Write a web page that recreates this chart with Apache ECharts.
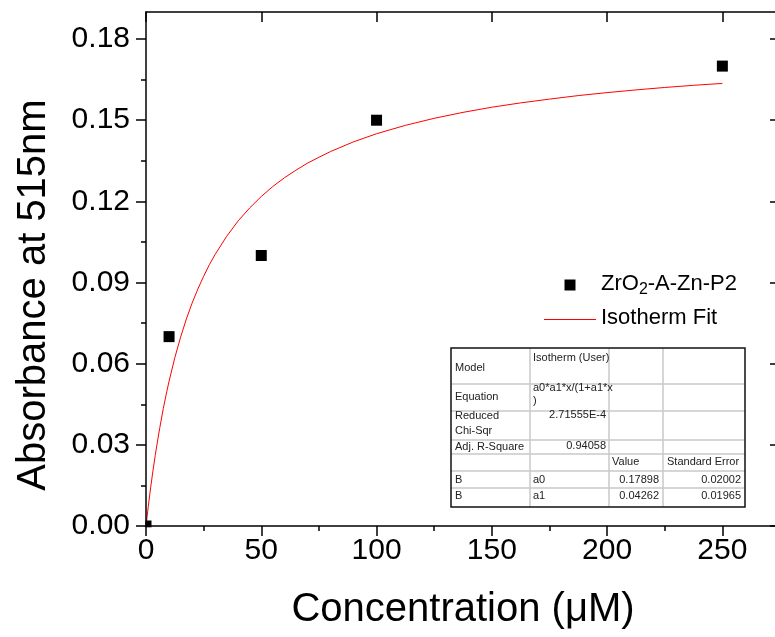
<!DOCTYPE html>
<html><head><meta charset="utf-8">
<script src="https://cdn.jsdelivr.net/npm/echarts@6.0.0/dist/echarts.min.js"></script>
<style>html,body{margin:0;padding:0;background:#fff}#c{width:775px;height:637px}</style>
</head><body><div id="c"></div>
<script>
// ---- data ----
const measX = [0, 10, 50, 100, 250];
const measY = [0, 0.07, 0.10, 0.15, 0.17];
const fitX = [0, 1, 2, 3, 4, 5, 6, 7.5, 9, 10, 12.5, 15, 17.5, 20, 22.5, 25, 27.5, 30, 35, 40, 45, 50, 55, 60, 65, 70, 75, 80, 90, 100, 112.5, 125, 137.5, 150, 162.5, 175, 187.5, 200, 212.5, 225, 237.5, 250];
const fitY = [0, 0.0073, 0.0141, 0.0203, 0.0261, 0.0314, 0.0364, 0.0434, 0.0496, 0.0535, 0.0622, 0.0698, 0.0765, 0.0824, 0.0876, 0.0923, 0.0966, 0.1004, 0.1071, 0.1128, 0.1176, 0.1218, 0.1255, 0.1287, 0.1315, 0.1341, 0.1363, 0.1384, 0.1420, 0.1450, 0.1481, 0.1507, 0.1529, 0.1548, 0.1564, 0.1578, 0.1591, 0.1602, 0.1612, 0.1621, 0.1629, 0.1636];
const xMajorTicks = [0, 50, 100, 150, 200, 250];
const xMinorTicks = [25, 75, 125, 175, 225];
const yMajorTicks = [0, 0.03, 0.06, 0.09, 0.12, 0.15, 0.18];
const yMinorTicks = [0.015, 0.045, 0.075, 0.105, 0.135, 0.165];
const seriesName = 'ZrO2-A-Zn-P2';
const fitName = 'Isotherm Fit';
const xTitle = 'Concentration (\u03bcM)';
const yTitle = 'Absorbance at 515nm';
const infoLabels = ['Model', 'Equation', 'Reduced', 'Chi-Sqr', 'Adj. R-Square'];
const infoValues = ['Isotherm (User)', 'a0*a1*x/(1+a1*x', ')', '2.71555E-4', '0.94058'];
const paramHeader = ['Value', 'Standard Error'];
const paramRows = ['B', 'B'];
const paramNames = ['a0', 'a1'];
const paramValues = ['0.17898', '0.04262'];
const paramErrors = ['0.02002', '0.01965'];

// ---- styling ----
const FONT = '"Liberation Sans", Arial, sans-serif';
const X_MIN = 0, X_MAX = 275, Y_MIN = 0, Y_MAX = 0.19;
const AX = { color: '#000', width: 1.5 };

function axisBase(extra) {
  return Object.assign({
    type: 'value', splitLine: { show: false }, z: 5,
    axisLine: { show: false, lineStyle: AX },
    axisLabel: { show: false },
    axisTick: { show: false }
  }, extra);
}
const xAxes = [
  axisBase({
    position: 'bottom', min: X_MIN, max: X_MAX,
    axisLine: { show: true, onZero: false, lineStyle: AX },
    axisTick: { show: true, customValues: xMajorTicks, length: 10, inside: false, lineStyle: AX },
    axisLabel: { show: true, customValues: xMajorTicks, fontSize: 30, fontFamily: FONT, color: '#000', margin: 10 },
    name: xTitle, nameLocation: 'middle', nameGap: 64,
    nameTextStyle: { fontSize: 40, fontFamily: FONT, color: '#000' }
  }),
  axisBase({ position: 'bottom', min: X_MIN, max: X_MAX,
    axisTick: { show: true, customValues: xMinorTicks, length: 5, inside: false, lineStyle: AX } }),
  axisBase({ position: 'top', min: X_MIN, max: X_MAX,
    axisLine: { show: true, onZero: false, lineStyle: AX },
    axisTick: { show: true, customValues: xMajorTicks, length: 10, inside: true, lineStyle: AX } }),
  axisBase({ position: 'top', min: X_MIN, max: X_MAX,
    axisTick: { show: true, customValues: xMinorTicks, length: 5, inside: true, lineStyle: AX } })
];
const yAxes = [
  axisBase({
    position: 'left', min: Y_MIN, max: Y_MAX,
    axisLine: { show: true, onZero: false, lineStyle: AX },
    axisTick: { show: true, customValues: yMajorTicks, length: 10, inside: false, lineStyle: AX },
    axisLabel: { show: true, customValues: yMajorTicks, fontSize: 30, fontFamily: FONT, color: '#000', margin: 16,
      formatter: v => Number(v).toFixed(2) }
  }),
  axisBase({ position: 'left', min: Y_MIN, max: Y_MAX,
    axisTick: { show: true, customValues: yMinorTicks, length: 5, inside: false, lineStyle: AX } }),
  axisBase({ position: 'right', min: Y_MIN, max: Y_MAX,
    axisLine: { show: true, onZero: false, lineStyle: AX },
    axisTick: { show: true, customValues: yMajorTicks, length: 10, inside: true, lineStyle: AX } }),
  axisBase({ position: 'right', min: Y_MIN, max: Y_MAX,
    axisTick: { show: true, customValues: yMinorTicks, length: 5, inside: true, lineStyle: AX } })
];

// ---- table graphics ----
const TF = '11px ' + FONT;
const colX = [451, 530, 609, 663, 745];
const rowY = [348, 384, 411, 440, 454, 471, 488, 507];
const tableEls = [];
tableEls.push({ type: 'rect', shape: { x: colX[0], y: rowY[0], width: colX[4] - colX[0], height: rowY[7] - rowY[0] },
  style: { fill: '#fff', stroke: null }, z: 10 });
for (let i = 1; i < rowY.length - 1; i++) {
  tableEls.push({ type: 'line', shape: { x1: colX[0], y1: rowY[i], x2: colX[4], y2: rowY[i] },
    style: { stroke: '#c8c8c8', lineWidth: 1.5 }, z: 11 });
}
for (let i = 1; i < colX.length - 1; i++) {
  tableEls.push({ type: 'line', shape: { x1: colX[i], y1: rowY[0], x2: colX[i], y2: rowY[7] },
    style: { stroke: '#c8c8c8', lineWidth: 1.5 }, z: 11 });
}
tableEls.push({ type: 'rect', shape: { x: colX[0], y: rowY[0], width: colX[4] - colX[0], height: rowY[7] - rowY[0] },
  style: { fill: null, stroke: '#111', lineWidth: 1.5 }, z: 12 });
function tt(text, x, y, align) {
  tableEls.push({ type: 'text', z: 13, style: { text: text, x: x, y: y, font: TF, fill: '#222', align: align || 'left', verticalAlign: 'middle' } });
}
tt(infoLabels[0], 455, 368);
tt(infoLabels[1], 455, 397);
tt(infoLabels[2], 455, 416);
tt(infoLabels[3], 455, 431);
tt(infoLabels[4], 455, 447);
tt(infoValues[0], 533, 358);
tt(infoValues[1], 533, 388);
tt(infoValues[2], 533, 401);
tt(infoValues[3], 606, 415, 'right');
tt(infoValues[4], 606, 446, 'right');
tt(paramHeader[0], 612, 462);
tt(paramHeader[1], 667, 462);
for (let i = 0; i < paramRows.length; i++) {
  const y = 480 + i * 16;
  tt(paramRows[i], 455, y);
  tt(paramNames[i], 533, y);
  tt(paramValues[i], 659, y, 'right');
  tt(paramErrors[i], 741, y, 'right');
}

// ---- legend & y title graphics ----
const legendEls = [
  { type: 'rect', z: 10, shape: { x: 564.5, y: 279.5, width: 11, height: 11 }, style: { fill: '#000' } },
  { type: 'text', z: 10, style: {
      text: 'ZrO{sub|2}-A-Zn-P2', x: 601, y: 284, fontSize: 22, fontFamily: FONT, fill: '#000',
      lineHeight: 28, verticalAlign: 'middle', align: 'left',
      rich: { sub: { fontSize: 16, lineHeight: 6, verticalAlign: 'bottom', fontFamily: FONT, fill: '#000' } } } },
  { type: 'line', z: 10, shape: { x1: 544, y1: 319.5, x2: 596, y2: 319.5 }, style: { stroke: '#ff0000', lineWidth: 1 } },
  { type: 'text', z: 10, style: { text: fitName, x: 601, y: 318, fontSize: 22, fontFamily: FONT, fill: '#000', verticalAlign: 'middle', align: 'left' } },
  { type: 'text', z: 10, x: 34, y: 295, rotation: Math.PI / 2,
    style: { text: yTitle, x: 0, y: 0, fontSize: 40, fontFamily: FONT, fill: '#000', align: 'center', verticalAlign: 'middle' } }
];
// masks hiding the part of the origin marker outside the plot frame
const maskEls = [
  { type: 'rect', z: 4, shape: { x: 132, y: 518, width: 13.3, height: 16 }, style: { fill: '#fff' } },
  { type: 'rect', z: 4, shape: { x: 132, y: 527.3, width: 24, height: 8 }, style: { fill: '#fff' } }
];

const chart = echarts.init(document.getElementById('c'), null, { renderer: 'canvas' });
chart.setOption({
  animation: false,
  backgroundColor: '#fff',
  grid: { left: 146, right: -5, top: 12, bottom: 111, containLabel: false, outerBoundsMode: 'none' },
  xAxis: xAxes,
  yAxis: yAxes,
  series: [
    { name: fitName, type: 'line', xAxisIndex: 0, yAxisIndex: 0, showSymbol: false, symbol: 'none', smooth: false,
      data: fitX.map((x, i) => [x, fitY[i]]), lineStyle: { color: '#ff0000', width: 1 }, z: 2, silent: true },
    { name: seriesName, type: 'scatter', xAxisIndex: 0, yAxisIndex: 0, symbol: 'rect', symbolSize: 11, clip: false,
      itemStyle: { color: '#000', opacity: 1 }, data: measX.map((x, i) => [x, measY[i]]), z: 3 }
  ],
  graphic: { elements: maskEls.concat(tableEls, legendEls) }
});
</script></body></html>
